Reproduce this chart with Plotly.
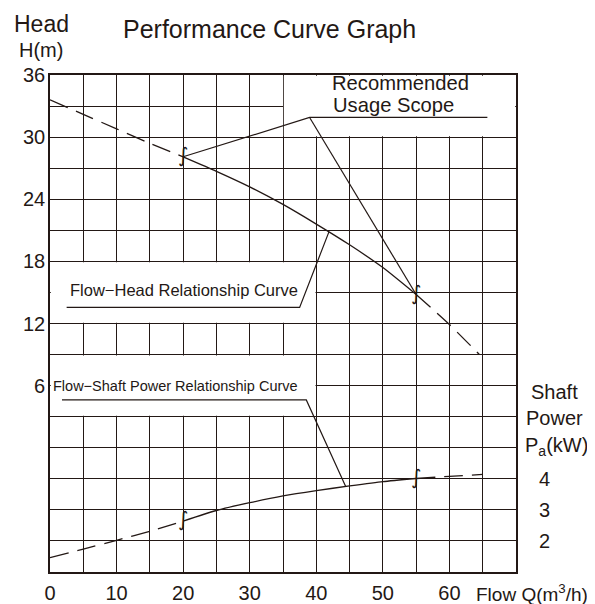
import plotly.graph_objects as go

# ---------------- data ----------------
head_q = [0, 5, 10, 15, 20, 25, 30, 35, 40, 45, 50, 55, 60, 64.5]
head_h = [33.6, 32.2, 30.8, 29.4, 28.1, 26.7, 25.2, 23.5, 21.6, 19.6, 17.4, 14.8, 11.9, 9.0]
power_q = [0, 5, 10, 15, 20, 25, 30, 35, 40, 45, 50, 55, 60, 65]
power_p = [1.46, 1.74, 2.02, 2.31, 2.64, 2.98, 3.23, 3.45, 3.62, 3.77, 3.91, 4.01, 4.08, 4.14]
scope_q = [20, 55]                       # recommended usage scope (flow limits)
x_tick_labels = [0, 10, 20, 30, 40, 50, 60]
head_tick_labels = [6, 12, 18, 24, 30, 36]
power_tick_labels = [2, 3, 4]

INK = "#231815"
FONT = "Liberation Sans, Arial, Helvetica, sans-serif"

# page offset of the plot div (default body margin)
OFF = 8
W, H = 595, 604
# plot-area geometry in page pixels
L, R, T, B = 50, 516, 75, 572
def px(x):
    return (x - L) / (R - L)
def py(y):
    return (B - y) / (B - T)

def seg(qs, vs, lo, hi):
    xs = [q for q in qs if lo <= q <= hi]
    ys = [v for q, v in zip(qs, vs) if lo <= q <= hi]
    return xs, ys

def value_at(qs, vs, q):
    return vs[qs.index(q)]

fig = go.Figure()

lo, hi = scope_q
dash = "19px,9px"
for qs, vs, ax in [(head_q, head_h, "y"), (power_q, power_p, "y2")]:
    for a, b, d in [(qs[0], lo, dash), (lo, hi, "solid"), (hi, qs[-1], dash)]:
        xs, ys = seg(qs, vs, a, b)
        fig.add_trace(go.Scatter(x=xs, y=ys, yaxis=ax, mode="lines",
                                 line=dict(color=INK, width=1.3, dash=d, shape="spline", smoothing=0.6),
                                 hoverinfo="skip", showlegend=False))
    # scope marks
    fig.add_trace(go.Scatter(x=scope_q, y=[value_at(qs, vs, q) for q in scope_q], yaxis=ax,
                             mode="text", text=["\u222b", "\u222b"],
                             textfont=dict(family="DejaVu Sans, sans-serif", size=20, color=INK),
                             hoverinfo="skip", showlegend=False))

# leader lines for the labels
rec_elbow = (39.0, 31.9)
rec_end = 65.7
fig.add_trace(go.Scatter(x=[lo, rec_elbow[0], rec_end], y=[value_at(head_q, head_h, lo), rec_elbow[1], rec_elbow[1]],
                         mode="lines", line=dict(color=INK, width=1.2), hoverinfo="skip", showlegend=False))
fig.add_trace(go.Scatter(x=[rec_elbow[0], hi], y=[rec_elbow[1], value_at(head_q, head_h, hi)],
                         mode="lines", line=dict(color=INK, width=1.2), hoverinfo="skip", showlegend=False))
fig.add_trace(go.Scatter(x=[2.5, 37.5, 41.9], y=[13.55, 13.55, 20.85],
                         mode="lines", line=dict(color=INK, width=1.2), hoverinfo="skip", showlegend=False))
fig.add_trace(go.Scatter(x=[1.8, 38.5, 44.4], y=[6.54, 6.54, 3.76], yaxis="y2",
                         mode="lines", line=dict(color=INK, width=1.2), hoverinfo="skip", showlegend=False))

# blank (ungridded) label boxes
shapes = []
for x0, x1, y0, y1 in [(35, 70, 30, 36), (0, 40, 12, 18), (0, 40, 3, 9)]:
    shapes.append(dict(type="rect", xref="x", yref="y", layer="between",
                       x0=x0 + 0.12, x1=x1 - 0.12, y0=y0 + 0.08, y1=y1 - 0.08,
                       fillcolor="white", line=dict(width=0)))

xt = list(range(0, 75, 5))
yt = list(range(-12, 39, 3))

ann = []
def text(s, x, y, size, xanchor="center"):
    ann.append(dict(text=s, x=px(x), y=py(y), xref="paper", yref="paper", showarrow=False,
                    xanchor=xanchor, yanchor="middle", borderpad=0,
                    font=dict(family=FONT, size=size, color=INK)))

text("Head", 41.5, 24, 23)
text("H(m)", 41, 50, 20)
text("Performance Curve Graph", 122, 29, 25, xanchor="left")
text("Recommended", 331, 82.5, 20.2, xanchor="left")
text("Usage Scope", 332, 105, 20.2, xanchor="left")
text("Flow\u2212Head Relationship Curve", 183.5, 290, 16.5)
text("Flow\u2212Shaft Power Relationship Curve", 175, 386, 14.5)
text("Shaft", 554, 391.5, 20)
text("Power", 554, 418, 20)
text("P<sub>a</sub>(kW)", 556, 446, 20)
text("Flow Q(m<sup>3</sup>/h)", 475, 593, 19, xanchor="left")

fig.update_layout(
    width=W - OFF, height=H - OFF,
    margin=dict(l=L - OFF, r=(W - OFF) - (R - OFF), t=T - OFF, b=(H - OFF) - (B - OFF), autoexpand=False),
    paper_bgcolor="white", plot_bgcolor="white",
    font=dict(family=FONT, color=INK),
    showlegend=False,
    shapes=shapes,
    annotations=ann,
    xaxis=dict(range=[0, 70], tickvals=xt, automargin=False,
               ticktext=[str(v) if v in x_tick_labels else "" for v in xt],
               showgrid=True, gridcolor=INK, gridwidth=1.2, zeroline=False,
               showline=True, linecolor=INK, linewidth=1.6, mirror=True,
               ticks="", ticklabelstandoff=2, tickfont=dict(size=20, color=INK)),
    yaxis=dict(range=[-12, 36], tickvals=yt, automargin=False,
               ticktext=[str(v) if v in head_tick_labels else "" for v in yt],
               showgrid=True, gridcolor=INK, gridwidth=1.2, zeroline=False,
               showline=True, linecolor=INK, linewidth=1.6, mirror=True,
               ticks="", ticklabelstandoff=-1, tickfont=dict(size=20, color=INK)),
    yaxis2=dict(range=[1, 17], overlaying="y", side="right", tickvals=power_tick_labels,
                ticktext=[str(v) for v in power_tick_labels], automargin=False,
                showgrid=False, zeroline=False, showline=False,
                ticks="", ticklabelstandoff=22, tickfont=dict(size=20, color=INK)),
)

fig.write_html("out.html")
